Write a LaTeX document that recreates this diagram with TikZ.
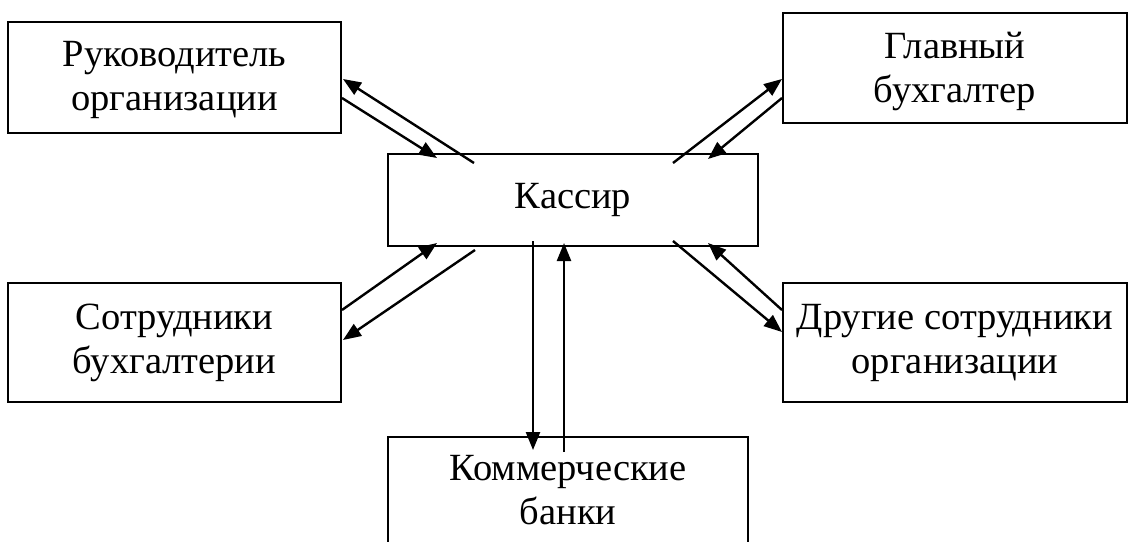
\documentclass[tikz,border=0pt]{standalone}
\usepackage{fontspec}
\setmainfont{Liberation Serif}
\usetikzlibrary{arrows.meta,calc}
\tikzset{
  boxnode/.style={draw, line width=2pt, rectangle, align=center, inner sep=0pt,
    font=\fontsize{38.5pt}{44pt}\selectfont},
  boxtext/.style={align=center, inner sep=0pt, font=\fontsize{38.5pt}{44pt}\selectfont},
  conn/.style={line width=2.4pt, -{Triangle[length=18pt,width=14pt]}}
}
\begin{document}
\begin{tikzpicture}[x=1pt,y=-1pt]
\useasboundingbox (0,0) rectangle (1129,541);
\node[boxnode, minimum width=333pt, minimum height=111pt] (ruk) at (174.5,77.5) {};
\node[boxtext] (ruktext) at (174.5,80) {Руководитель\\организации};
\node[boxnode, minimum width=344pt, minimum height=110pt] (glav) at (955,68) {};
\node[boxtext] (glavtext) at (955,71) {Главный\\бухгалтер};
\node[boxnode, minimum width=370pt, minimum height=92pt] (kas) at (573,200) {Кассир};
\node[boxnode, minimum width=333pt, minimum height=119pt] (sotr) at (174.5,342.5) {Сотрудники\\бухгалтерии};
\node[boxnode, minimum width=344pt, minimum height=119pt] (drug) at (955,342.5) {Другие сотрудники\\организации};
\node[boxnode, minimum width=360pt, minimum height=112pt, anchor=north] (bank) at (568,436) {};
\node[boxtext] (banktext) at (568,490) {Коммерческие\\банки};
% Руководитель
\draw[conn] ($(kas.north west)+(87,10)$) -- ($(ruk.east)+(1,1.5)$);
\draw[conn] ($(ruk.east)+(0,20.5)$) -- ($(kas.north west)+(50,5)$);
% Главный
\draw[conn] ($(kas.north east)+(-86,10)$) -- ($(glav.west)+(0,11)$);
\draw[conn] ($(glav.west)+(0,30)$) -- ($(kas.north east)+(-51,6)$);
% Сотрудники
\draw[conn] ($(sotr.east)+(0,-32.5)$) -- ($(kas.south west)+(50,-4)$);
\draw[conn] ($(kas.south west)+(88,3)$) -- ($(sotr.east)+(1,-2.5)$);
% Другие
\draw[conn] ($(kas.south east)+(-86,-6)$) -- ($(drug.west)+(0,-10.5)$);
\draw[conn] ($(drug.west)+(0,-32.5)$) -- ($(kas.south east)+(-51,-4)$);
% Банки
\draw[conn] ($(kas.south west)+(146,-6)$) -- ($(bank.north west)+(146,14)$);
\draw[conn] ($(bank.north west)+(177,16)$) -- ($(kas.south west)+(177,-4)$);
\end{tikzpicture}
\end{document}
